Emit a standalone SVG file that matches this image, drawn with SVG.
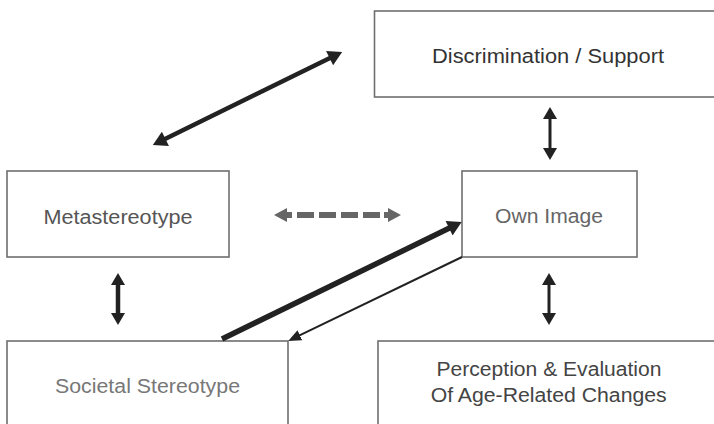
<svg xmlns="http://www.w3.org/2000/svg" width="714" height="424" viewBox="0 0 714 424">
<style>
.box{fill:#fff;stroke:#6e6e6e;stroke-width:1.6}
.lbl{font-family:"Liberation Sans",Arial,sans-serif;font-size:20px;text-anchor:middle}
.arr{stroke:#222;fill:none;stroke-linecap:butt}
</style>
<defs>
<marker id="hL" markerUnits="userSpaceOnUse" markerWidth="16" markerHeight="16" viewBox="0 0 14 16" refX="1" refY="8" orient="auto-start-reverse"><path d="M0,0 L14,8 L0,16 z" fill="#222"/></marker>
<marker id="hM" markerUnits="userSpaceOnUse" markerWidth="14" markerHeight="14" viewBox="0 0 12 14" refX="1" refY="7" orient="auto-start-reverse"><path d="M0,0 L12,7 L0,14 z" fill="#222"/></marker>
<marker id="hS" markerUnits="userSpaceOnUse" markerWidth="13" markerHeight="11" viewBox="0 0 13 11" refX="1" refY="5.5" orient="auto-start-reverse"><path d="M0,0 L13,5.5 L0,11 z" fill="#222"/></marker>
<marker id="hG" markerUnits="userSpaceOnUse" markerWidth="14" markerHeight="14" viewBox="0 0 13 14" refX="1" refY="7" orient="auto-start-reverse"><path d="M0,0 L13,7 L0,14 z" fill="#666"/></marker>
</defs>
<g id="discrimination">
<rect class="box" x="374.5" y="11" width="350" height="86"/>
<text class="lbl" x="548" y="63" fill="#333" textLength="232" lengthAdjust="spacingAndGlyphs">Discrimination / Support</text>
</g>
<g id="metastereotype">
<rect class="box" x="7" y="171" width="222" height="86"/>
<text class="lbl" x="118" y="224" fill="#555" textLength="149" lengthAdjust="spacingAndGlyphs">Metastereotype</text>
</g>
<g id="own-image">
<rect class="box" x="462" y="171" width="175" height="86"/>
<text class="lbl" x="549" y="223" fill="#666" textLength="108" lengthAdjust="spacingAndGlyphs">Own Image</text>
</g>
<g id="societal-stereotype">
<rect class="box" x="7" y="341" width="281" height="100"/>
<text class="lbl" x="147.5" y="393" fill="#777" textLength="185" lengthAdjust="spacingAndGlyphs">Societal Stereotype</text>
</g>
<g id="perception">
<rect class="box" x="378" y="341" width="350" height="100"/>
<text class="lbl" x="549" y="376" fill="#444" textLength="225" lengthAdjust="spacingAndGlyphs">Perception &amp; Evaluation</text>
<text class="lbl" x="548.7" y="401.5" fill="#444" textLength="236" lengthAdjust="spacingAndGlyphs">Of Age-Related Changes</text>
</g>
<g id="connectors">
<line class="arr" x1="164.5" y1="139.3" x2="330.5" y2="57.7" stroke-width="4.5" marker-start="url(#hL)" marker-end="url(#hL)"/>
<line class="arr" x1="550" y1="118" x2="550" y2="149" stroke-width="3" marker-start="url(#hM)" marker-end="url(#hM)"/>
<line class="arr" x1="549" y1="284" x2="549" y2="314" stroke-width="3" marker-start="url(#hM)" marker-end="url(#hM)"/>
<line class="arr" x1="118" y1="284" x2="118" y2="314" stroke-width="4.5" marker-start="url(#hM)" marker-end="url(#hM)"/>
<line class="arr" x1="222" y1="339" x2="450" y2="227.8" stroke-width="5.5" marker-end="url(#hL)"/>
<line class="arr" x1="462" y1="257" x2="299" y2="335.7" stroke-width="2" marker-end="url(#hS)"/>
<line x1="286" y1="215" x2="389" y2="215" stroke="#666" stroke-width="6" stroke-dasharray="6 5 17 5 17 5 17 5 17 4 6" marker-start="url(#hG)" marker-end="url(#hG)"/>
</g>
</svg>
